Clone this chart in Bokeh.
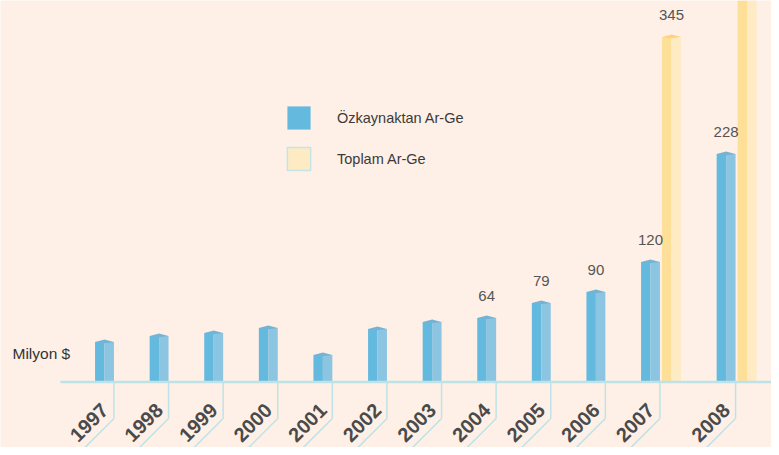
import math
from bokeh.plotting import figure
from bokeh.models import ColumnDataSource, Range1d, Legend, LegendItem, Label
from bokeh.core.properties import value
from bokeh.embed import file_html
from bokeh.resources import INLINE

# ---- data ----
years = ["1997", "1998", "1999", "2000", "2001", "2002", "2003",
         "2004", "2005", "2006", "2007", "2008"]
ozkaynak = [40, 46, 49, 54, 27, 53, 60, 64, 79, 90, 120, 228]
toplam_years = ["2007", "2008"]
toplam = [345, 480]
first_labeled_year = "2004"
series_names = ["Özkaynaktan Ar-Ge", "Toplam Ar-Ge"]
unit_title = "Milyon $"

# ---- style ----
BG = "#fef0e6"
BLUE_L, BLUE_R, BLUE_CAP = "#64b9de", "#8cc5e1", "#74b3d4"
YEL_L, YEL_R, YEL_CAP = "#fedf98", "#feeac3", "#fdd27a"
LINE = "#bde3e8"
TXT = "#4a4a4a"
FONT = "Liberation Sans"
GAP = 1.6
BW = 0.9
PX = 21.0  # pixels per slot

# slot layout (one slot per bar, group gap between years)
pos = 0.0
blue_x, tot_x = [], []
for y in years:
    blue_x.append(pos)
    n = 1
    if y in toplam_years:
        tot_x.append(pos + 1)
        n = 2
    pos += n + GAP

W, H = 771, 447
YMAX = 381.5
X0 = -104 / PX
p = figure(width=W, height=H, output_backend="svg", toolbar_location=None,
           x_range=Range1d(X0, X0 + W / PX), y_range=Range1d(YMAX - H, YMAX),
           x_axis_location=None, y_axis_location=None, min_border=0)
p.background_fill_color = BG
p.border_fill_color = BG
p.outline_line_color = None
p.grid.visible = False


def bars(xs, vals, cl, cr, ccap):
    src_l = ColumnDataSource(dict(x=[x - BW / 4 for x in xs], top=vals))
    src_r = ColumnDataSource(dict(x=[x + BW / 4 for x in xs], top=vals))
    rl = p.vbar(x="x", top="top", bottom=0, width=BW / 2, source=src_l,
                fill_color=cl, line_color=None)
    p.vbar(x="x", top="top", bottom=0, width=BW / 2, source=src_r,
           fill_color=cr, line_color=None)
    cap = ColumnDataSource(dict(
        xs=[[x - BW / 2, x, x + BW / 2, x] for x in xs],
        ys=[[v, v + 2.4, v, v - 1.2] for v in vals]))
    p.patches("xs", "ys", source=cap, fill_color=ccap, line_color=None)
    return rl


r_blue = bars(blue_x, ozkaynak, BLUE_L, BLUE_R, BLUE_CAP)
r_tot = bars(tot_x, toplam, YEL_L, YEL_R, YEL_CAP)

# zero-height renderer used only as the legend swatch of the total series
r_leg_tot = p.vbar(x=[tot_x[0]], top=[0], bottom=[0], width=BW,
                   fill_color="#feebc4", line_color="#c4e4e6", line_width=1.5)

# baseline
p.segment(x0=[blue_x[0] - 2.1], x1=[tot_x[-1] + 1.5], y0=[0], y1=[0],
          line_color=LINE, line_width=2.5)

# tick lines: vertical, then diagonal down-left
tick_x = [x + BW / 2 for x in blue_x]
TICK_LEN = 36.5
n = len(tick_x)
p.segment(x0=tick_x, x1=tick_x, y0=[0] * n, y1=[-TICK_LEN] * n,
          line_color=LINE, line_width=1.5)
DIAG = 70
p.segment(x0=tick_x, x1=[x - DIAG / PX for x in tick_x],
          y0=[-TICK_LEN] * n, y1=[-TICK_LEN - DIAG] * n,
          line_color=LINE, line_width=1.5)

# year labels, centred just above the diagonal
p.text(x=[x - 25 / PX for x in tick_x], y=[-TICK_LEN - 4] * n, text=years,
       angle=math.pi / 4, text_align="center", text_baseline="middle",
       text_font=value(FONT), text_font_style="bold", text_font_size="20px",
       text_color=TXT)

# value labels
OFF = 22
start = years.index(first_labeled_year)
lx = blue_x[start:] + [x for x, v in zip(tot_x, toplam) if v + OFF < YMAX]
lv = ozkaynak[start:] + [v for v in toplam if v + OFF < YMAX]
p.text(x=lx, y=[v + OFF for v in lv], text=[str(v) for v in lv],
       text_align="center", text_baseline="middle",
       text_font=value(FONT), text_font_size="15px", text_color="#555555")

# unit title
p.add_layout(Label(x=blue_x[0] - 92 / PX, y=28.5, text=unit_title,
                   text_baseline="middle", text_align="left",
                   text_font=FONT, text_font_size="15.5px", text_color="#333333"))

# legend
legend = Legend(items=[LegendItem(label=series_names[0], renderers=[r_blue]),
                       LegendItem(label=series_names[1], renderers=[r_leg_tot])],
                location=(284, 274), orientation="vertical",
                glyph_width=29, glyph_height=29, spacing=12, padding=0, margin=0,
                label_standoff=24, label_text_font=FONT, label_text_font_size="14.5px",
                label_text_color="#3a3a3a", border_line_color=None,
                background_fill_alpha=0)
p.add_layout(legend)

open("out.html", "w").write(file_html(p, INLINE))
